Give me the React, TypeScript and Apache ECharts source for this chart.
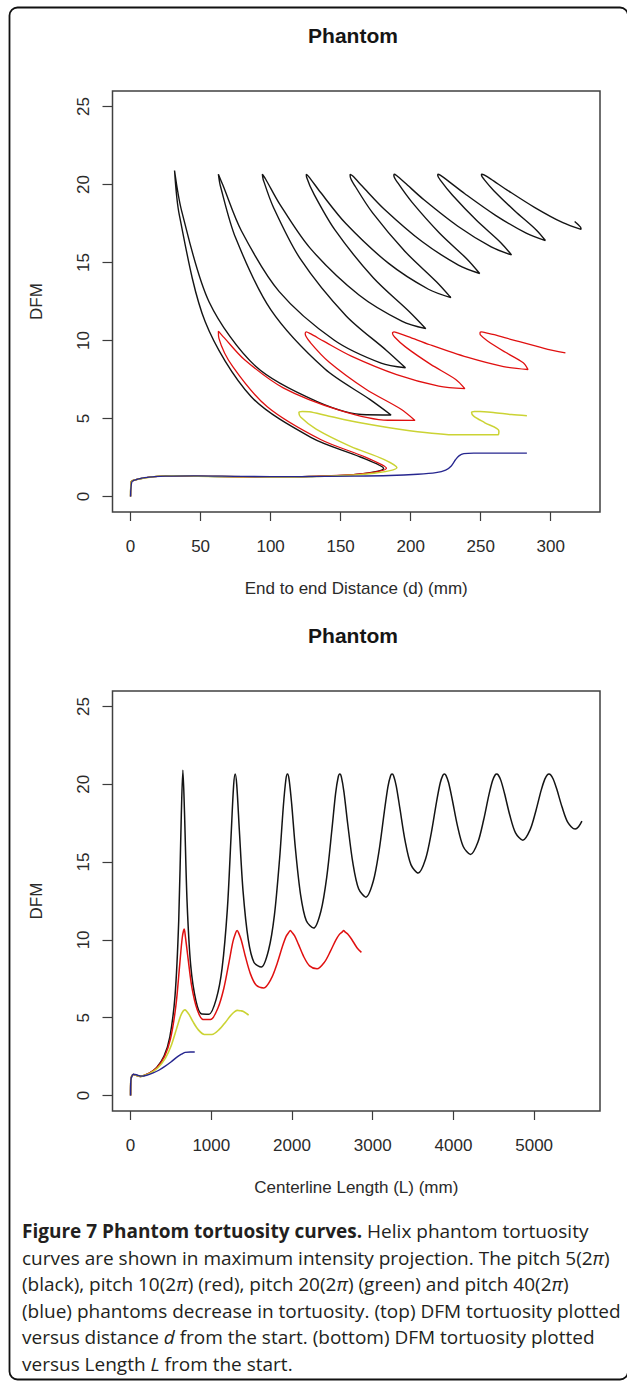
import React, { useEffect, useRef } from 'react';
import * as echarts from 'echarts';

const W = 627;
const H = 1381;

// ---------- tick labels ----------
const dTicks = [0, 50, 100, 150, 200, 250, 300];
const lTicks = [0, 1000, 2000, 3000, 4000, 5000];
const dfmTicks = [0, 5, 10, 15, 20, 25];

// ---------- top panel: DFM vs end-to-end distance d (mm) ----------
const topBlack = [
  [0, 0], [0.5, 0.95], [3, 1.05], [8, 1.15], [15, 1.25], [30, 1.32], [60, 1.28], [100, 1.25], [127.3, 1.273], [163.3, 1.429], [180.7, 1.793],
  [164.1, 2.527], [129.4, 3.755], [86.0, 6.408], [53.3, 11.195], [34.8, 18.052], [31.4, 20.9],
  [36.5, 18.3], [56.1, 12.47], [89.3, 8.342], [133.2, 6.082], [168.4, 5.234], [186.0, 5.225], [170.8, 6.222], [138.6, 8.181], [100.2, 11.961], [75.0, 16.582], [64.1, 19.924], [62.7, 20.66],
  [65.9, 19.965], [79.1, 17.036], [106.0, 13.15], [145.5, 10.018], [178.9, 8.548], [196.3, 8.251], [182.7, 9.363], [153.8, 11.59], [121.1, 15.249], [101.9, 18.563], [94.7, 20.327], [94.1, 20.66],
  [96.5, 20.341], [106.5, 18.746], [128.2, 15.921], [163.1, 12.915], [194.0, 11.224], [210.8, 10.757], [198.9, 11.859], [173.3, 14.022], [145.8, 17.111], [130.8, 19.415], [125.7, 20.473], [125.5, 20.66],
  [127.5, 20.479], [135.6, 19.503], [153.7, 17.498], [184.3, 14.943], [212.7, 13.285], [228.7, 12.749], [218.4, 13.766], [196.0, 15.708], [172.7, 18.201], [160.7, 19.843], [156.8, 20.541], [156.8, 20.66],
  [158.7, 20.543], [165.5, 19.89], [181.0, 18.436], [208.1, 16.346], [234.1, 14.839], [249.3, 14.295], [240.5, 15.199], [220.7, 16.881], [200.9, 18.874], [191.0, 20.086], [188.0, 20.577], [188.2, 20.66],
  [189.9, 20.579], [195.9, 20.114], [209.5, 19.024], [233.7, 17.329], [257.5, 16.004], [272.0, 15.488], [264.4, 16.275], [247.0, 17.707], [229.9, 19.311], [221.6, 20.236], [219.3, 20.599], [219.5, 20.66],
  [221.1, 20.601], [226.5, 20.254], [238.7, 19.412], [260.6, 18.029], [282.5, 16.882], [296.2, 16.409], [289.7, 17.088], [274.4, 18.304], [259.4, 19.609], [252.4, 20.334], [250.5, 20.614], [250.9, 20.66],
  [252.4, 20.614], [257.3, 20.347], [268.4, 19.68], [288.4, 18.54], [308.7, 17.551], [321.7, 17.123], [321.3, 17.27], [317.1, 17.63],
];

const topRed = [
  [0, 0], [0.5, 0.95], [3, 1.05], [8, 1.15], [15, 1.25], [30, 1.32], [60, 1.28], [100, 1.25], [129, 1.28], [164.4, 1.445], [182.7, 1.806],
  [167.7, 2.518], [135.7, 3.648], [97.6, 5.75], [73.0, 8.317], [63.1, 10.139], [62.7, 10.6],
  [66.8, 10.181], [81.2, 8.781], [109.0, 6.964], [149.5, 5.519], [183.8, 4.883], [203.1, 4.875], [192.6, 5.619], [168.1, 6.873], [141.9, 8.605], [128.4, 9.867], [124.7, 10.428], [125.4, 10.55],
  [128.4, 10.435], [137.9, 9.956], [157.6, 9.001], [190.0, 7.815], [220.1, 7.078], [238.7, 6.913], [232.2, 7.503], [214.3, 8.469], [196.5, 9.573], [188.5, 10.225], [187.0, 10.483], [188.1, 10.55],
  [190.7, 10.485], [198.2, 10.254], [213.8, 9.726], [240.3, 8.928], [266.3, 8.328], [283.8, 8.139], [280.4, 8.568], [267.4, 9.257], [254.9, 9.97], [249.8, 10.356], [249.5, 10.502], [250.8, 10.55],
  [253.3, 10.503], [259.7, 10.369], [272.7, 10.043], [295.3, 9.498], [310.5, 9.2],
];

const topYellow = [
  [0, 0], [0.5, 0.95], [3, 1.05], [8, 1.15], [15, 1.25], [30, 1.32], [60, 1.28], [100, 1.25], [130.9, 1.283], [168.8, 1.434], [190.2, 1.85],
  [180.8, 2.379], [157.0, 3.209], [132.5, 4.312], [121.4, 5.093], [120.2, 5.38], [122.6, 5.45],
  [127.5, 5.431], [139.8, 5.191], [163.0, 4.741], [199.3, 4.216], [233.1, 3.95], [262.5, 3.95], [263.0, 4.2], [253.0, 4.72], [245.0, 5.15], [243.5, 5.38], [245.5, 5.45],
  [249.5, 5.44], [259.0, 5.38], [272.0, 5.25], [283.0, 5.17],
];

const topBlue = [
  [0, 0], [1, 0.95], [4, 1.08], [10, 1.2], [25, 1.3], [45, 1.32], [80, 1.28], [120, 1.27], [160, 1.3], [185, 1.34], [205, 1.42], [218, 1.52],
  [225, 1.68], [229, 1.95], [232, 2.35], [234.5, 2.6], [238, 2.74], [245, 2.78], [283, 2.78],
];

// ---------- bottom panel: DFM vs centerline length L (mm) ----------
const botBlack = [
  [0, 0], [3, 1.0], [15, 1.25], [35, 1.35], [70, 1.3], [120, 1.22], [162, 1.273], [233.3, 1.429], [324, 1.793], [414.7, 2.527], [486, 3.755], [550.8, 6.408], [596.2, 11.195], [628.6, 18.052], [648, 20.9],
  [667.4, 18.3], [699.8, 12.47], [745.2, 8.342], [810, 6.082], [881.3, 5.234], [972, 5.225], [1062.7, 6.222], [1134, 8.181], [1198.8, 11.961], [1244.2, 16.582], [1276.6, 19.924], [1296, 20.66],
  [1315.4, 19.965], [1347.8, 17.036], [1393.2, 13.15], [1458, 10.018], [1529.3, 8.548], [1620, 8.251], [1710.7, 9.363], [1782, 11.59], [1846.8, 15.249], [1892.2, 18.563], [1924.6, 20.327], [1944, 20.66],
  [1963.4, 20.341], [1995.8, 18.746], [2041.2, 15.921], [2106, 12.915], [2177.3, 11.224], [2268, 10.757], [2358.7, 11.859], [2430, 14.022], [2494.8, 17.111], [2540.2, 19.415], [2572.6, 20.473], [2592, 20.66],
  [2611.4, 20.479], [2643.8, 19.503], [2689.2, 17.498], [2754, 14.943], [2825.3, 13.285], [2916, 12.749], [3006.7, 13.766], [3078, 15.708], [3142.8, 18.201], [3188.2, 19.843], [3220.6, 20.541], [3240, 20.66],
  [3259.4, 20.543], [3291.8, 19.89], [3337.2, 18.436], [3402, 16.346], [3473.3, 14.839], [3564, 14.295], [3654.7, 15.199], [3726, 16.881], [3790.8, 18.874], [3836.2, 20.086], [3868.6, 20.577], [3888, 20.66],
  [3907.4, 20.579], [3939.8, 20.114], [3985.2, 19.024], [4050, 17.329], [4121.3, 16.004], [4212, 15.488], [4302.7, 16.275], [4374, 17.707], [4438.8, 19.311], [4484.2, 20.236], [4516.6, 20.599], [4536, 20.66],
  [4555.4, 20.601], [4587.8, 20.254], [4633.2, 19.412], [4698, 18.029], [4769.3, 16.882], [4860, 16.409], [4950.7, 17.088], [5022, 18.304], [5086.8, 19.609], [5132.2, 20.334], [5164.6, 20.614], [5184, 20.66],
  [5203.4, 20.614], [5235.8, 20.347], [5281.2, 19.68], [5346, 18.54], [5417.3, 17.551], [5508, 17.123], [5550, 17.27], [5592, 17.63],
];

const botRed = [
  [0, 0], [3, 1.0], [15, 1.25], [35, 1.35], [70, 1.3], [120, 1.22], [165, 1.28], [237.6, 1.445], [330, 1.806], [422.4, 2.518], [495, 3.648], [561, 5.75], [607.2, 8.317], [640.2, 10.139], [665, 10.7],
  [679.8, 10.181], [712.8, 8.781], [759, 6.964], [825, 5.519], [897.6, 4.883], [990, 4.875], [1082.4, 5.619], [1155, 6.873], [1221, 8.605], [1267.2, 9.867], [1300.2, 10.428], [1320, 10.6],
  [1339.8, 10.435], [1372.8, 9.956], [1419, 9.001], [1485, 7.815], [1557.6, 7.078], [1650, 6.913], [1742.4, 7.503], [1815, 8.469], [1881, 9.573], [1927.2, 10.225], [1960.2, 10.483], [1980, 10.6],
  [1999.8, 10.485], [2032.8, 10.254], [2079, 9.726], [2145, 8.928], [2217.6, 8.328], [2310, 8.139], [2402.4, 8.568], [2475, 9.257], [2541, 9.97], [2587.2, 10.356], [2620.2, 10.502], [2640, 10.6],
  [2659.8, 10.503], [2692.8, 10.369], [2739, 10.043], [2805, 9.498], [2860, 9.2],
];

const botYellow = [
  [0, 0], [3, 1.0], [15, 1.25], [35, 1.35], [70, 1.3], [120, 1.22], [168, 1.283], [241.9, 1.434], [336, 1.767], [430.1, 2.379], [504, 3.209], [571.2, 4.312], [618.2, 5.093], [651.8, 5.425], [672, 5.5],
  [692.2, 5.431], [725.8, 5.191], [772.8, 4.741], [840, 4.216], [913.9, 3.92], [1008, 3.916], [1102.1, 4.258], [1176, 4.713], [1243.2, 5.155], [1290.2, 5.383], [1323.8, 5.466], [1344, 5.45],
  [1364.2, 5.44], [1397.8, 5.397], [1444.8, 5.234], [1463, 5.16],
];

const botBlue = [
  [0, 0], [4, 1.0], [18, 1.25], [35, 1.36], [70, 1.33], [130, 1.24], [200, 1.3], [280, 1.45], [350, 1.62], [420, 1.85], [500, 2.15], [570, 2.45], [630, 2.65], [675, 2.77], [740, 2.79], [795, 2.79],
];

// ---------- caption ----------
const captionLines = [
  '{b|Figure 7 Phantom tortuosity curves.} Helix phantom tortuosity',
  'curves are shown in maximum intensity projection. The pitch 5(2{i|π})',
  '(black), pitch 10(2{i|π}) (red), pitch 20(2{i|π}) (green) and pitch 40(2{i|π})',
  '(blue) phantoms decrease in tortuosity. (top) DFM tortuosity plotted',
  'versus distance {i|d} from the start. (bottom) DFM tortuosity plotted',
  'versus Length {i|L} from the start.',
];

const AX_FONT = "'Liberation Sans', Arial, sans-serif";
const CAP_FONT = "'Open Sans', 'Noto Sans', sans-serif";
const COL_BLACK = '#141414';
const COL_RED = '#e01010';
const COL_YELLOW = '#cbd334';
const COL_BLUE = '#26268f';

export default function App() {
  const ref = useRef<HTMLDivElement>(null);

  useEffect(() => {
    if (!ref.current) return;
    const chart = echarts.init(ref.current, null, { renderer: 'svg', width: W, height: H });

    const plain = (v: number) => String(v);

    const xAxisCfg = (gridIndex: number, min: number, max: number, ticks: number[], name: string) => ({
      type: 'value',
      gridIndex,
      min,
      max,
      axisLine: { show: false, onZero: false },
      axisTick: { show: true, length: 9, customValues: ticks, lineStyle: { color: '#3c3c3c', width: 1.2 } },
      axisLabel: { show: true, customValues: ticks, formatter: plain, margin: 26, fontSize: 17, fontFamily: AX_FONT, color: '#2a2a2a' },
      splitLine: { show: false },
      name,
      nameLocation: 'middle',
      nameGap: 68,
      nameTextStyle: { fontSize: 17, fontFamily: AX_FONT, color: '#2a2a2a' },
    });

    const yAxisCfg = (gridIndex: number) => ({
      type: 'value',
      gridIndex,
      min: -1,
      max: 26,
      axisLine: { show: false, onZero: false },
      axisTick: { show: true, length: 10, customValues: dfmTicks, lineStyle: { color: '#3c3c3c', width: 1.2 } },
      axisLabel: { show: true, customValues: dfmTicks, formatter: plain, rotate: 90, margin: 21, fontSize: 17, fontFamily: AX_FONT, color: '#2a2a2a' },
      splitLine: { show: false },
      name: 'DFM',
      nameLocation: 'middle',
      nameGap: 68,
      nameTextStyle: { fontSize: 17, fontFamily: AX_FONT, color: '#2a2a2a' },
    });

    const line = (name: string, data: number[][], idx: number, color: string, width: number) => ({
      name,
      type: 'line',
      xAxisIndex: idx,
      yAxisIndex: idx,
      data,
      showSymbol: false,
      symbol: 'none',
      smooth: 0.3,
      lineStyle: { color, width },
      itemStyle: { color },
      emphasis: { disabled: true },
    });

    const captionStyleBase = { fontSize: 19, fontFamily: CAP_FONT, fill: '#231f20' };

    const option = {
      animation: false,
      backgroundColor: '#ffffff',
      grid: [
        { left: 112.5, top: 91, width: 487.5, height: 421, show: true, borderColor: '#404040', borderWidth: 1.5, backgroundColor: 'transparent' },
        { left: 112.5, top: 691, width: 487.5, height: 420, show: true, borderColor: '#404040', borderWidth: 1.5, backgroundColor: 'transparent' },
      ],
      xAxis: [
        xAxisCfg(0, -12.9, 335.2, dTicks, 'End to end Distance (d) (mm)'),
        xAxisCfg(1, -224, 5816, lTicks, 'Centerline Length (L) (mm)'),
      ],
      yAxis: [yAxisCfg(0), yAxisCfg(1)],
      series: [
        line('pitch 5 (black)', topBlack, 0, COL_BLACK, 1.4),
        line('pitch 10 (red)', topRed, 0, COL_RED, 1.3),
        line('pitch 20 (green)', topYellow, 0, COL_YELLOW, 1.5),
        line('pitch 40 (blue)', topBlue, 0, COL_BLUE, 1.3),
        line('pitch 5 (black) L', botBlack, 1, COL_BLACK, 1.5),
        line('pitch 10 (red) L', botRed, 1, COL_RED, 1.5),
        line('pitch 20 (green) L', botYellow, 1, COL_YELLOW, 1.6),
        line('pitch 40 (blue) L', botBlue, 1, COL_BLUE, 1.4),
      ],
      graphic: [
        {
          type: 'rect',
          silent: true,
          shape: { x: 9.5, y: 7.5, width: 618.5, height: 1372, r: 8 },
          style: { fill: 'none', stroke: '#111111', lineWidth: 1.8 },
        },
        {
          type: 'text',
          silent: true,
          x: 353,
          y: 35.5,
          style: { text: 'Phantom', fontSize: 21, fontWeight: 'bold', fontFamily: AX_FONT, fill: '#151515', align: 'center', verticalAlign: 'middle' },
        },
        {
          type: 'text',
          silent: true,
          x: 353,
          y: 635,
          style: { text: 'Phantom', fontSize: 21, fontWeight: 'bold', fontFamily: AX_FONT, fill: '#151515', align: 'center', verticalAlign: 'middle' },
        },
        ...captionLines.map((t, i) => ({
          type: 'text',
          silent: true,
          x: 22,
          y: 1231 + i * 26.6,
          style: {
            text: t,
            ...captionStyleBase,
            align: 'left',
            verticalAlign: 'middle',
            rich: {
              b: { ...captionStyleBase, fontWeight: 'bold' },
              i: { ...captionStyleBase, fontStyle: 'italic' },
            },
          },
        })),
      ],
    };

    chart.setOption(option as any);
    return () => chart.dispose();
  }, []);

  return (
    <div
      ref={ref}
      style={{ position: 'fixed', left: 0, top: 0, width: W, height: H, background: '#fff' }}
    />
  );
}
